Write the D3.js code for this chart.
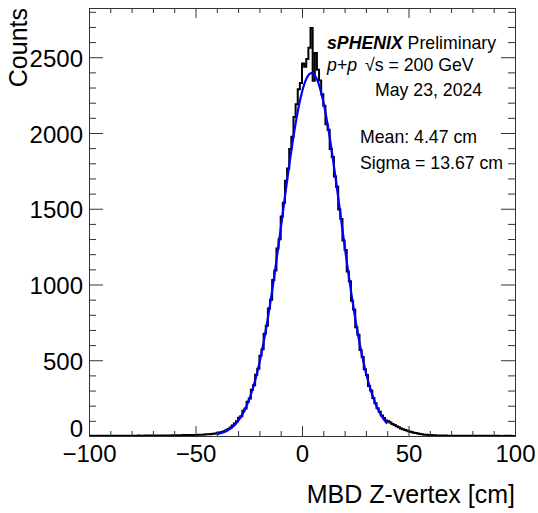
<!DOCTYPE html>
<html>
<head>
<meta charset="utf-8">
<script src="https://cdn.jsdelivr.net/npm/d3@7"></script>
<style>
  body { margin: 0; background: #fff; }
  svg { display: block; }
  text { font-family: "Liberation Sans", Arial, Helvetica, sans-serif; fill: #000; }
</style>
</head>
<body>
<svg id="chart" width="538" height="513"></svg>
<script>
// Histogram: 1 cm bins, lower edges from -100 cm to 99 cm
const binLow = -100;
const binWidth = 1;
const counts = [
  1, 0, 2, 1, 1, 0, 1, 2, 1, 1,            // -100 .. -91
  2, 1, 1, 2, 1, 2, 2, 1, 2, 2,            // -90 .. -81
  1, 2, 2, 3, 2, 2, 3, 2, 3, 3,            // -80 .. -71
  3, 2, 3, 4, 3, 4, 3, 4, 4, 5,            // -70 .. -61
  4, 5, 5, 4, 6, 5, 6, 7, 6, 7,            // -60 .. -51
  7, 8, 8, 9, 10, 11, 12, 14, 15, 17,      // -50 .. -41
  20, 23, 27, 32, 38, 46, 56, 69, 83, 98,  // -40 .. -31
  120, 131, 166, 182, 226, 248, 305, 335, 405, 444,        // -30 .. -21
  530, 572, 675, 728, 842, 900, 1030, 1092, 1238, 1298,    // -20 .. -11
  1448, 1540, 1685, 1765, 1895, 1975, 2105, 2190, 2288, 2330, // -10 .. -1
  2458, 2437, 2489, 2563, 2693, 2344, 2528, 2418, 2347, 2256, // 0 .. 9
  2180, 2058, 2022, 1895, 1842, 1712, 1645, 1495, 1432, 1290, // 10 .. 19
  1228, 1085, 1022, 892, 835, 718, 668, 568, 522, 440,     // 20 .. 29
  402, 330, 301, 250, 216, 183, 160, 135, 119, 103,        // 30 .. 39
  98, 89, 80, 72, 64, 57, 50, 44, 39, 34,  // 40 .. 49
  30, 26, 22, 19, 16, 13, 11, 9, 8, 7,     // 50 .. 59
  6, 5, 5, 4, 4, 3, 3, 3, 2, 2,            // 60 .. 69
  2, 2, 1, 2, 1, 2, 1, 1, 2, 1,            // 70 .. 79
  1, 1, 0, 1, 1, 1, 0, 1, 1, 0,            // 80 .. 89
  1, 0, 1, 0, 0, 1, 0, 1, 0, 0             // 90 .. 99
];

// Gaussian fit result
const fitConstant = 2395;
const fitMean = 4.47;
const fitSigma = 13.67;
const fitRange = [-40, 40];

const xMajorTicks = [-100, -50, 0, 50, 100];
const yMajorTicks = [0, 500, 1000, 1500, 2000, 2500];
const xMinorStep = 10;
const yMinorStep = 100;
const xDomain = [-100, 100];
const yDomain = [0, 2825];

const xTitle = "MBD Z-vertex [cm]";
const yTitle = "Counts";
const labelLines = {
  experiment: "sPHENIX",
  status: " Preliminary",
  system: "p+p",
  energy: "√s = 200 GeV",
  date: "May 23, 2024",
  mean: "Mean: " + fitMean.toFixed(2) + " cm",
  sigma: "Sigma = " + fitSigma.toFixed(2) + " cm"
};

// ---- layout
const frame = { left: 89, right: 515, top: 8, bottom: 436 };
const svg = d3.select("#chart");

const x = d3.scaleLinear().domain(xDomain).range([frame.left, frame.right]);
const y = d3.scaleLinear().domain(yDomain).range([frame.bottom, frame.top]);

const axisColor = "#333";
const tickFont = 24;

// ---- histogram outline (step line through bin edges)
const steps = counts.map((c, i) => [binLow + i * binWidth, c]);
steps.push([binLow + counts.length * binWidth, counts[counts.length - 1]]);

svg.append("clipPath").attr("id", "frameClip")
  .append("rect")
  .attr("x", frame.left).attr("y", frame.top)
  .attr("width", frame.right - frame.left).attr("height", frame.bottom - frame.top);

const plot = svg.append("g").attr("clip-path", "url(#frameClip)");

plot.append("path")
  .datum(steps)
  .attr("fill", "none")
  .attr("stroke", "#000")
  .attr("stroke-width", 2)
  .attr("stroke-linejoin", "miter")
  .attr("d", d3.line().curve(d3.curveStepAfter).x(d => x(d[0])).y(d => y(d[1])));

// ---- fit curve
const gauss = v => fitConstant * Math.exp(-0.5 * Math.pow((v - fitMean) / fitSigma, 2));
const fitPts = d3.range(fitRange[0], fitRange[1] + 0.001, 0.25).map(v => [v, gauss(v)]);

plot.append("path")
  .datum(fitPts)
  .attr("fill", "none")
  .attr("stroke", "#0000ff")
  .attr("stroke-width", 2.2)
  .attr("stroke-linejoin", "round")
  .attr("d", d3.line().curve(d3.curveLinear).x(d => x(d[0])).y(d => y(d[1])));

// ---- axes: ticks on all four sides pointing inwards
const xMinor = d3.range(xDomain[0], xDomain[1] + 0.001, xMinorStep).filter(v => !xMajorTicks.includes(v));
const yMinor = d3.range(0, yDomain[1], yMinorStep).filter(v => !yMajorTicks.includes(v));

function styleAxis(g) {
  g.selectAll("path.domain").attr("stroke", axisColor).attr("stroke-width", 1);
  g.selectAll(".tick line").attr("stroke", axisColor).attr("stroke-width", 1);
  g.selectAll("text")
    .style("font-family", '"Liberation Sans", Arial, Helvetica, sans-serif')
    .style("font-size", tickFont + "px")
    .attr("fill", "#000");
}

// bottom
svg.append("g").attr("transform", `translate(0,${frame.bottom})`)
  .call(d3.axisBottom(x).tickValues(xMinor).tickSize(-5).tickSizeOuter(0).tickFormat(""))
  .call(styleAxis);
svg.append("g").attr("transform", `translate(0,${frame.bottom})`)
  .call(d3.axisBottom(x).tickValues(xMajorTicks).tickSize(-10).tickSizeOuter(0).tickPadding(9)
    .tickFormat(d => d < 0 ? "\u2212" + Math.abs(d) : String(d)))
  .call(styleAxis);

// top
svg.append("g").attr("transform", `translate(0,${frame.top})`)
  .call(d3.axisTop(x).tickValues(xMinor).tickSize(-5).tickSizeOuter(0).tickFormat(""))
  .call(styleAxis);
svg.append("g").attr("transform", `translate(0,${frame.top})`)
  .call(d3.axisTop(x).tickValues(xMajorTicks).tickSize(-10).tickSizeOuter(0).tickFormat(""))
  .call(styleAxis);

// left
svg.append("g").attr("transform", `translate(${frame.left},0)`)
  .call(d3.axisLeft(y).tickValues(yMinor).tickSize(-7).tickSizeOuter(0).tickFormat(""))
  .call(styleAxis);
const yAxisMajor = svg.append("g").attr("transform", `translate(${frame.left},0)`)
  .call(d3.axisLeft(y).tickValues(yMajorTicks).tickSize(-14).tickSizeOuter(0).tickPadding(6)
    .tickFormat(d3.format("d")))
  .call(styleAxis);
yAxisMajor.selectAll(".tick text").attr("dy", d => d === 0 ? "0.0em" : "0.38em");

// right
svg.append("g").attr("transform", `translate(${frame.right},0)`)
  .call(d3.axisRight(y).tickValues(yMinor).tickSize(-7).tickSizeOuter(0).tickFormat(""))
  .call(styleAxis);
svg.append("g").attr("transform", `translate(${frame.right},0)`)
  .call(d3.axisRight(y).tickValues(yMajorTicks).tickSize(-14).tickSizeOuter(0).tickFormat(""))
  .call(styleAxis);

// ---- axis titles
svg.append("text")
  .attr("x", frame.right).attr("y", 503)
  .attr("text-anchor", "end")
  .style("font-size", "25px")
  .text(xTitle);

svg.append("text")
  .attr("transform", `translate(27,${frame.top}) rotate(-90)`)
  .attr("text-anchor", "end")
  .style("font-size", "25px")
  .text(yTitle);

// ---- labels
const labelSize = 17.7;
const l1 = svg.append("text").attr("x", 327).attr("y", 49).style("font-size", labelSize + "px");
l1.append("tspan").style("font-weight", "bold").style("font-style", "italic").text(labelLines.experiment);
l1.append("tspan").text(labelLines.status);

svg.append("text").attr("x", 327).attr("y", 71).style("font-size", labelSize + "px")
  .style("font-style", "italic").text(labelLines.system);
svg.append("text").attr("x", 365).attr("y", 71).style("font-size", labelSize + "px")
  .text(labelLines.energy);

svg.append("text").attr("x", 375).attr("y", 96).style("font-size", labelSize + "px").text(labelLines.date);
svg.append("text").attr("x", 360).attr("y", 143).style("font-size", labelSize + "px").text(labelLines.mean);
svg.append("text").attr("x", 360).attr("y", 169).style("font-size", labelSize + "px").text(labelLines.sigma);
</script>
</body>
</html>
